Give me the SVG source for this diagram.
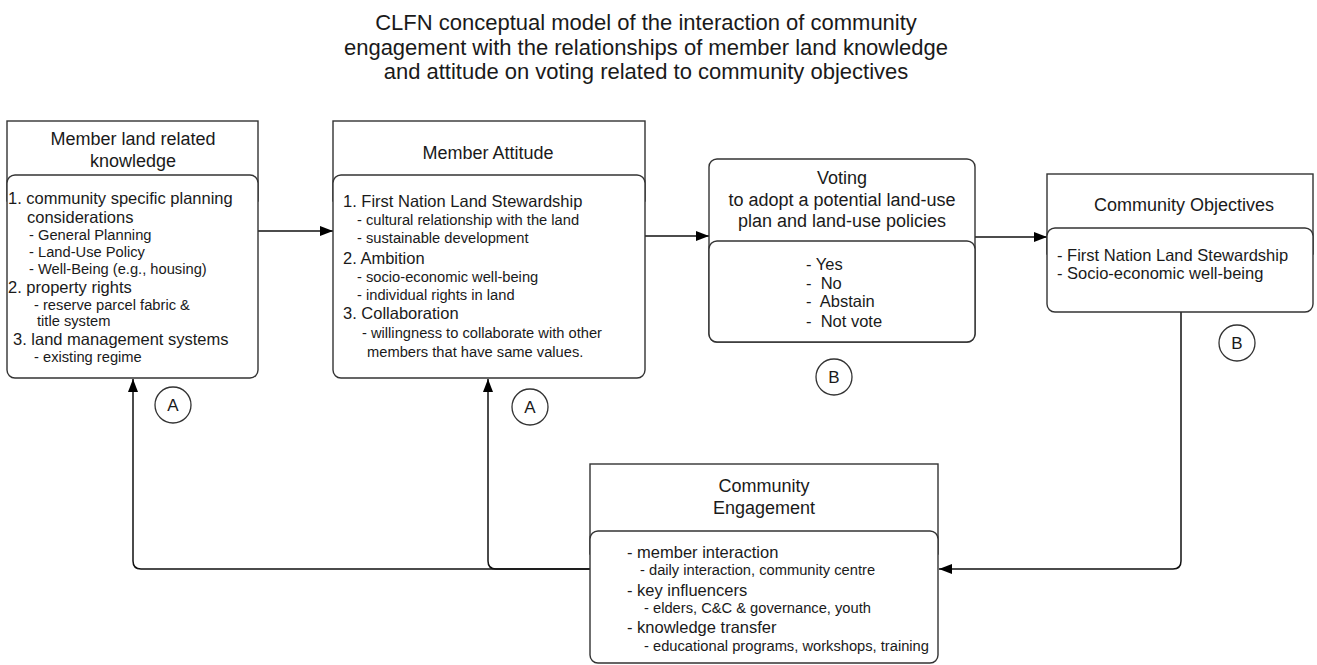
<svg xmlns="http://www.w3.org/2000/svg" width="1317" height="665" viewBox="0 0 1317 665">
<style>
.bg{fill:#fff}
.box{fill:#fff;stroke:#333;stroke-width:1.4}
.t{font-family:"Liberation Sans",Arial,sans-serif;fill:#1a1a1a}
.ttl{font-size:22px;text-anchor:middle}
.hd{font-size:18px;text-anchor:middle}
.m{font-size:16.5px}
.s{font-size:14.7px}
.lbl{font-size:17px;text-anchor:middle}
.edge{fill:none;stroke:#111;stroke-width:1.5}
.circ{fill:#fff;stroke:#333;stroke-width:1.3}
</style>
<defs>
<marker id="arr" viewBox="0 0 13 10" refX="13" refY="5" markerWidth="13" markerHeight="10" markerUnits="userSpaceOnUse" orient="auto">
<path d="M0,0 L13,5 L0,10 z" fill="#000"/>
</marker>
</defs>
<rect class="bg" x="0" y="0" width="1317" height="665"/>

<g id="title">
<text class="t ttl" x="646" y="29.5">CLFN conceptual model of the interaction of community</text>
<text class="t ttl" x="646" y="54.5">engagement with the relationships of member land knowledge</text>
<text class="t ttl" x="646" y="78.5">and attitude on voting related to community objectives</text>
</g>

<g id="connectors">
<path class="edge" d="M258,231 H333" marker-end="url(#arr)"/>
<path class="edge" d="M645,236 H709" marker-end="url(#arr)"/>
<path class="edge" d="M975,237 H1047" marker-end="url(#arr)"/>
<path class="edge" d="M1181,312 V561 Q1181,569 1173,569 H939" marker-end="url(#arr)"/>
<path class="edge" d="M590,569 H141 Q133,569 133,561 V379" marker-end="url(#arr)"/>
<path class="edge" d="M590,569 H496 Q488,569 488,561 V379" marker-end="url(#arr)"/>
</g>

<g id="node-knowledge">
<rect class="box" x="7" y="121" width="251" height="80"/>
<rect class="box" x="7" y="175" width="251" height="203" rx="8"/>
<text class="t hd" x="133" y="144.5">Member land related</text>
<text class="t hd" x="133" y="166.5">knowledge</text>
<text class="t m" x="8" y="204">1. community specific planning</text>
<text class="t m" x="27" y="223">considerations</text>
<text class="t s" x="29" y="240">- General Planning</text>
<text class="t s" x="29" y="257">- Land-Use Policy</text>
<text class="t s" x="29" y="274">- Well-Being (e.g., housing)</text>
<text class="t m" x="8" y="293">2. property rights</text>
<text class="t s" x="34" y="310">- reserve parcel fabric &amp;</text>
<text class="t s" x="37" y="326">title system</text>
<text class="t m" x="13" y="345">3. land management systems</text>
<text class="t s" x="34" y="362">- existing regime</text>
</g>

<g id="node-attitude">
<rect class="box" x="333" y="121" width="312" height="80"/>
<rect class="box" x="333" y="175" width="312" height="203" rx="8"/>
<text class="t hd" x="488" y="158.5">Member Attitude</text>
<text class="t m" x="343" y="207">1. First Nation Land Stewardship</text>
<text class="t s" x="357" y="225">- cultural relationship with the land</text>
<text class="t s" x="357" y="243">- sustainable development</text>
<text class="t m" x="343" y="264">2. Ambition</text>
<text class="t s" x="357" y="282">- socio-economic well-being</text>
<text class="t s" x="357" y="300">- individual rights in land</text>
<text class="t m" x="343" y="319">3. Collaboration</text>
<text class="t s" x="362" y="338">- willingness to collaborate with other</text>
<text class="t s" x="367" y="357">members that have same values.</text>
</g>

<g id="node-voting">
<rect class="box" x="709" y="159" width="266" height="183" rx="8"/>
<rect class="box" x="709" y="241" width="266" height="101" rx="8"/>
<text class="t hd" x="842" y="183.5">Voting</text>
<text class="t hd" x="842" y="205.5">to adopt a potential land-use</text>
<text class="t hd" x="842" y="226.5">plan and land-use policies</text>
<text class="t m" x="806" y="270" xml:space="preserve">- Yes</text>
<text class="t m" x="806" y="289" xml:space="preserve">-  No</text>
<text class="t m" x="806" y="307" xml:space="preserve">-  Abstain</text>
<text class="t m" x="806" y="327" xml:space="preserve">-  Not vote</text>
</g>

<g id="node-objectives">
<rect class="box" x="1047" y="174" width="266" height="80"/>
<rect class="box" x="1047" y="228" width="266" height="84" rx="8"/>
<text class="t hd" x="1184" y="210.5">Community Objectives</text>
<text class="t m" x="1057" y="261">- First Nation Land Stewardship</text>
<text class="t m" x="1057" y="279">- Socio-economic well-being</text>
</g>

<g id="node-engagement">
<rect class="box" x="590" y="464" width="348" height="90"/>
<rect class="box" x="590" y="531" width="348" height="132" rx="8"/>
<text class="t hd" x="764" y="491.5">Community</text>
<text class="t hd" x="764" y="513.5">Engagement</text>
<text class="t m" x="627" y="558">- member interaction</text>
<text class="t s" x="640" y="575">- daily interaction, community centre</text>
<text class="t m" x="627" y="596">- key influencers</text>
<text class="t s" x="644" y="613">- elders, C&amp;C &amp; governance, youth</text>
<text class="t m" x="627" y="633">- knowledge transfer</text>
<text class="t s" x="644" y="651">- educational programs, workshops, training</text>
</g>

<g id="label-A1">
<circle class="circ" cx="173" cy="405" r="18"/>
<text class="t lbl" x="173" y="411">A</text>
</g>
<g id="label-A2">
<circle class="circ" cx="530" cy="407" r="18"/>
<text class="t lbl" x="530" y="413">A</text>
</g>
<g id="label-B1">
<circle class="circ" cx="834" cy="377" r="18"/>
<text class="t lbl" x="834" y="383">B</text>
</g>
<g id="label-B2">
<circle class="circ" cx="1237" cy="343" r="18"/>
<text class="t lbl" x="1237" y="349">B</text>
</g>
</svg>
